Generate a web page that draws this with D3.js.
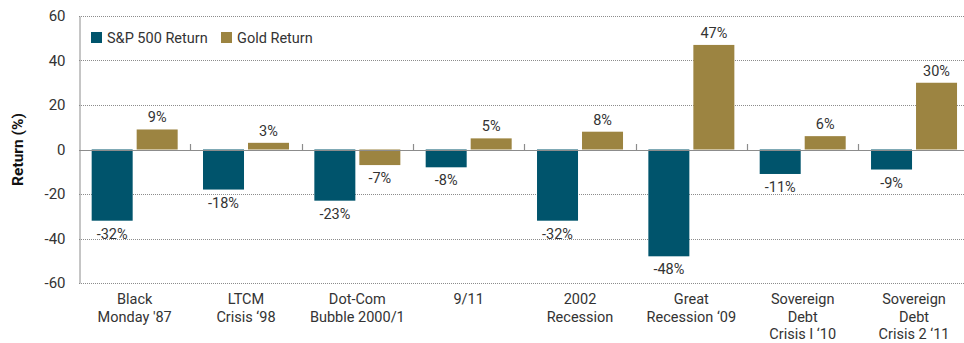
<!DOCTYPE html>
<html>
<head>
<meta charset="utf-8">
<script src="https://cdn.jsdelivr.net/npm/d3@7"></script>
<style>
  html, body { margin: 0; padding: 0; background: #fff; }
  svg { display: block; font-family: Roboto, "Open Sans", sans-serif; }
</style>
</head>
<body>
<svg id="chart" width="964" height="343"></svg>
<script>
// Market crises and returns
const categories = [
  ["Black", "Monday '87"],
  ["LTCM", "Crisis \u201898"],
  ["Dot-Com", "Bubble 2000/1"],
  ["9/11"],
  ["2002", "Recession"],
  ["Great", "Recession \u201809"],
  ["Sovereign", "Debt", "Crisis I \u201810"],
  ["Sovereign", "Debt", "Crisis 2 \u201811"]
];
const spReturns = [-32, -18, -23, -8, -32, -48, -11, -9];
const goldReturns = [9, 3, -7, 5, 8, 47, 6, 30];
const seriesNames = ["S&P 500 Return", "Gold Return"];
const yTicks = [60, 40, 20, 0, -20, -40, -60];

const colors = ["#00546c", "#9c8441"];
const textColor = "#333";
const gridColor = "#8c8c8c";

const svg = d3.select("#chart");
const margin = { left: 79, top: 16, right: 969.7, bottom: 283 };

const x = d3.scaleBand()
  .domain(d3.range(categories.length))
  .range([margin.left, margin.right]);

const y = d3.scaleLinear()
  .domain([-60, 60])
  .range([margin.bottom, margin.top]);

const barW = 41, gap = 4;
const inner = (x.bandwidth() - (2 * barW + gap)) / 2;

// Dotted gridlines
svg.append("g")
  .selectAll("line")
  .data(yTicks.filter(d => d !== 0))
  .join("line")
  .attr("x1", margin.left)
  .attr("x2", margin.right)
  .attr("y1", d => Math.round(y(d)) + 0.5)
  .attr("y2", d => Math.round(y(d)) + 0.5)
  .attr("stroke", gridColor)
  .attr("stroke-width", 1)
  .attr("stroke-dasharray", "1,1");

// Y axis with labels (plain hyphen for negatives)
const yAxis = d3.axisLeft(y)
  .tickValues(yTicks)
  .tickFormat(d => String(d))
  .tickSize(0)
  .tickPadding(14);
const yg = svg.append("g")
  .attr("transform", `translate(${margin.left + 0.5},0)`)
  .call(yAxis);
yg.select(".domain").attr("stroke", gridColor);
yg.selectAll("text")
  .attr("fill", textColor)
  .attr("font-size", 15)
  .attr("font-family", "Roboto, sans-serif");

// Y title
svg.append("text")
  .attr("transform", `translate(23,${(margin.top + margin.bottom) / 2}) rotate(-90)`)
  .attr("text-anchor", "middle")
  .attr("font-size", 15.5)
  .attr("font-weight", "bold")
  .attr("fill", "#111")
  .text("Return (%)");

// Bars
const series = [spReturns, goldReturns];
series.forEach((vals, s) => {
  const g = svg.append("g");
  const bx = i => x(i) + inner + s * (barW + gap);
  g.selectAll("rect")
    .data(vals)
    .join("rect")
    .attr("x", (d, i) => bx(i))
    .attr("width", barW)
    .attr("y", d => y(Math.max(0, d)))
    .attr("height", d => Math.abs(y(d) - y(0)))
    .attr("fill", colors[s]);
  g.selectAll("text")
    .data(vals)
    .join("text")
    .attr("x", (d, i) => bx(i) + barW / 2)
    .attr("y", d => d >= 0 ? y(d) - 7 : y(d) + 18)
    .attr("text-anchor", "middle")
    .attr("font-size", 14.5)
    .attr("fill", textColor)
    .text(d => d + "%");
});

// Zero line and category ticks
svg.append("line")
  .attr("x1", margin.left)
  .attr("x2", margin.right)
  .attr("y1", Math.round(y(0)) + 0.5)
  .attr("y2", Math.round(y(0)) + 0.5)
  .attr("stroke", gridColor)
  .attr("stroke-width", 1.2);

svg.append("g")
  .selectAll("line")
  .data(d3.range(1, categories.length + 1))
  .join("line")
  .attr("x1", i => Math.round(margin.left + i * x.step()) + 0.5)
  .attr("x2", i => Math.round(margin.left + i * x.step()) + 0.5)
  .attr("y1", Math.round(y(0)) + 0.5)
  .attr("y2", Math.round(y(0)) - 6)
  .attr("stroke", gridColor)
  .attr("stroke-width", 1.2);

// Category labels
const cl = svg.append("g")
  .selectAll("text")
  .data(categories)
  .join("text")
  .attr("text-anchor", "middle")
  .attr("font-size", 14.5)
  .attr("fill", textColor);
cl.each(function (lines, i) {
  d3.select(this).selectAll("tspan")
    .data(lines)
    .join("tspan")
    .attr("x", x(i) + x.bandwidth() / 2)
    .attr("y", (d, j) => 304 + j * 17.5)
    .text(d => d);
});

// Legend
const legend = svg.append("g");
const legendX = [91, 221];
seriesNames.forEach((name, s) => {
  legend.append("rect")
    .attr("x", legendX[s])
    .attr("y", 32)
    .attr("width", 11)
    .attr("height", 11)
    .attr("fill", colors[s]);
  legend.append("text")
    .attr("x", legendX[s] + 16)
    .attr("y", 43)
    .attr("font-size", 14.5)
    .attr("fill", textColor)
    .text(name);
});
</script>
</body>
</html>
